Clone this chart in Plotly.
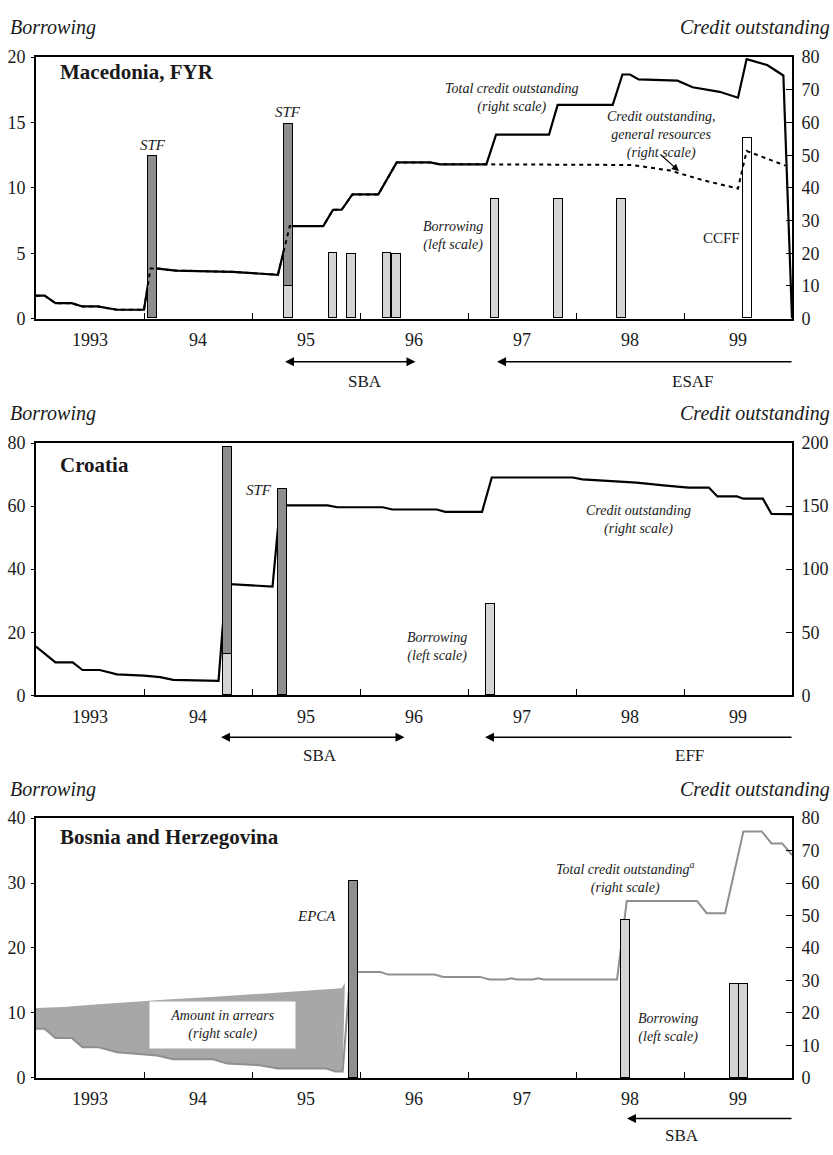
import plotly.graph_objects as go

W, H = 833, 1155
FONT = "Liberation Serif"

# ---------------- data ----------------
year_ticks = [1993.5, 1994.5, 1995.5, 1996.5, 1997.5, 1998.5, 1999.5]
year_labels = ["1993", "94", "95", "96", "97", "98", "99"]
year_bounds = [1994, 1995, 1996, 1997, 1998, 1999]

# Macedonia, FYR (credit: right scale; borrowing: left scale)
mk_total_x = [1993.00, 1993.08, 1993.18, 1993.33, 1993.43, 1993.57, 1993.75, 1994.00, 1994.06,
              1994.13, 1994.29, 1994.82, 1995.24, 1995.35, 1995.66, 1995.75, 1995.83, 1995.93,
              1996.17, 1996.34, 1996.65, 1996.74, 1997.17, 1997.26, 1997.75, 1997.83, 1998.34,
              1998.43, 1998.50, 1998.58, 1998.94, 1999.08, 1999.33, 1999.50, 1999.58, 1999.77,
              1999.92, 2000.00]
mk_total_y = [7.0, 7.0, 4.7, 4.7, 3.7, 3.7, 2.7, 2.7, 15.3,
              15.3, 14.7, 14.3, 13.4, 28.3, 28.3, 33.3, 33.3, 38.0,
              38.0, 47.8, 47.8, 47.2, 47.2, 56.3, 56.3, 65.4, 65.4,
              74.7, 74.7, 73.2, 72.8, 70.8, 69.4, 67.6, 79.4, 77.6,
              74.4, 0.0]
mk_genres_x = [1993.00, 1993.08, 1993.18, 1993.33, 1993.43, 1993.57, 1993.75, 1994.00, 1994.06,
               1994.13, 1994.29, 1994.82, 1995.24, 1995.35, 1995.66, 1995.75, 1995.83, 1995.93,
               1996.17, 1996.34, 1996.65, 1996.74, 1997.17, 1998.52, 1998.87, 1999.18, 1999.50,
               1999.58, 1999.94]
mk_genres_y = [7.0, 7.0, 4.7, 4.7, 3.7, 3.7, 2.7, 2.7, 15.3,
               15.3, 14.7, 14.3, 13.4, 28.3, 28.3, 33.3, 33.3, 38.0,
               38.0, 47.8, 47.8, 47.2, 47.2, 47.0, 45.3, 42.3, 39.8,
               51.3, 46.8]
mk_borrow_x = [1995.34, 1995.75, 1995.92, 1996.25, 1996.34, 1997.25, 1997.84, 1998.42]
mk_borrow_y = [2.5, 5.0, 4.9, 5.0, 4.9, 9.1, 9.1, 9.1]
mk_stf_x = [1994.08, 1995.34]
mk_stf_y = [12.4, 12.4]
mk_ccff_x = [1999.59]
mk_ccff_y = [13.8]

# Croatia
hr_credit_x = [1993.00, 1993.18, 1993.34, 1993.43, 1993.59, 1993.75, 1994.00, 1994.15, 1994.27,
               1994.69, 1994.76, 1994.81, 1995.19, 1995.26, 1995.70, 1995.79, 1996.21, 1996.30,
               1996.71, 1996.79, 1997.13, 1997.22, 1997.97, 1998.06, 1998.31, 1998.56, 1998.81,
               1999.04, 1999.23, 1999.31, 1999.49, 1999.55, 1999.73, 1999.81, 2000.00]
hr_credit_y = [38.6, 26.0, 26.0, 20.0, 20.0, 16.6, 15.5, 14.3, 12.2,
               11.4, 88.3, 88.0, 86.2, 150.6, 150.6, 149.1, 149.1, 147.3,
               147.3, 145.4, 145.4, 172.7, 172.7, 171.2, 169.9, 168.6, 166.5,
               164.7, 164.7, 157.7, 157.7, 155.9, 155.9, 143.9, 143.6]
hr_borrow_x = [1994.77, 1997.21]
hr_borrow_y = [13.1, 28.8]
hr_stf_x = [1994.77, 1995.28]
hr_stf_y = [65.5, 65.5]

# Bosnia and Herzegovina
ba_credit_x = [1993.00, 1993.08, 1993.18, 1993.33, 1993.43, 1993.58, 1993.75, 1994.12, 1994.27,
               1994.64, 1994.77, 1995.07, 1995.24, 1995.69, 1995.77, 1995.84, 1995.91, 1996.19,
               1996.26, 1996.69, 1996.77, 1997.11, 1997.20, 1997.35, 1997.40, 1997.45, 1997.60,
               1997.65, 1997.70, 1998.38, 1998.47, 1999.12, 1999.21,
               1999.38, 1999.45, 1999.55, 1999.72, 1999.81, 1999.91, 2000.00]
ba_credit_y = [15.1, 15.1, 12.3, 12.3, 9.4, 9.4, 7.9, 6.9, 5.7,
               5.7, 4.4, 3.9, 2.9, 2.9, 2.0, 2.0, 32.6, 32.6,
               31.8, 31.8, 31.1, 31.1, 30.3, 30.3, 30.7, 30.3, 30.3,
               30.7, 30.3, 30.3, 54.5, 54.5, 50.7,
               50.7, 61.0, 75.9, 75.9, 72.2, 72.2, 68.6]
ba_arrears_top_x = [1993.00, 1993.25, 1993.58, 1993.92, 1994.25, 1994.58, 1994.92, 1995.25,
                    1995.58, 1995.83, 1995.86]
ba_arrears_top_y = [21.5, 21.8, 22.7, 23.5, 24.2, 24.8, 25.6, 26.3, 27.0, 27.6, 29.3]
ba_arrears_end = 1995.84
ba_borrow_x = [1998.46, 1999.47, 1999.55]
ba_borrow_y = [24.3, 14.5, 14.5]
ba_epca_x = [1995.94]
ba_epca_y = [30.3]

# ---------------- style ----------------
DARK = "#8e8e91"
LIGHT = "#d4d4d4"
AREA = "#a7a7aa"
GREYLINE = "#8f8f8f"
BAR_W = 0.083
OUT = dict(color="black", width=1.5)


def px_x(x):
    return x / W


def px_y(y):
    return 1 - y / H


XDOM = [px_x(36), px_x(792)]

fig = go.Figure()

# ---- Panel 1: Macedonia ----
fig.add_trace(go.Scatter(x=mk_total_x, y=mk_total_y, mode="lines", xaxis="x", yaxis="y",
                         line=dict(color="black", width=2.2), showlegend=False))
fig.add_trace(go.Bar(x=mk_borrow_x, y=mk_borrow_y, width=BAR_W, xaxis="x", yaxis="y2",
                     marker=dict(color=LIGHT, line=OUT), showlegend=False))
fig.add_trace(go.Bar(x=mk_stf_x, y=mk_stf_y, width=BAR_W, xaxis="x", yaxis="y2",
                     marker=dict(color=DARK, line=OUT), showlegend=False))
fig.add_trace(go.Bar(x=mk_ccff_x, y=mk_ccff_y, width=BAR_W, xaxis="x", yaxis="y2",
                     marker=dict(color="white", line=OUT), showlegend=False))
fig.add_trace(go.Scatter(x=mk_genres_x, y=mk_genres_y, mode="lines", xaxis="x", yaxis="y3",
                         line=dict(color="black", width=2, dash="4px,4px"), showlegend=False))

# ---- Panel 2: Croatia ----
fig.add_trace(go.Scatter(x=hr_credit_x, y=hr_credit_y, mode="lines", xaxis="x2", yaxis="y4",
                         line=dict(color="black", width=2.2), showlegend=False))
fig.add_trace(go.Bar(x=hr_borrow_x, y=hr_borrow_y, width=BAR_W, xaxis="x2", yaxis="y5",
                     marker=dict(color=LIGHT, line=OUT), showlegend=False))
fig.add_trace(go.Bar(x=hr_stf_x, y=hr_stf_y, width=BAR_W, xaxis="x2", yaxis="y5",
                     marker=dict(color=DARK, line=OUT), showlegend=False))

# ---- Panel 3: Bosnia ----
low_x = [x for x in ba_credit_x if x <= ba_arrears_end]
low_y = [y for x, y in zip(ba_credit_x, ba_credit_y) if x <= ba_arrears_end]
fig.add_trace(go.Scatter(x=ba_arrears_top_x + low_x[::-1], y=ba_arrears_top_y + low_y[::-1],
                         mode="lines", fill="toself", fillcolor=AREA, line=dict(width=0),
                         xaxis="x3", yaxis="y6", showlegend=False))
fig.add_trace(go.Scatter(x=ba_credit_x, y=ba_credit_y, mode="lines", xaxis="x3", yaxis="y6",
                         line=dict(color=GREYLINE, width=2), showlegend=False))
fig.add_trace(go.Bar(x=ba_borrow_x, y=ba_borrow_y, width=BAR_W, xaxis="x3", yaxis="y7",
                     marker=dict(color=LIGHT, line=OUT), showlegend=False))
fig.add_trace(go.Bar(x=ba_epca_x, y=ba_epca_y, width=BAR_W, xaxis="x3", yaxis="y7",
                     marker=dict(color=DARK, line=OUT), showlegend=False))

TICKF = dict(family=FONT, size=18, color="#1a1a1a")


def xaxis(anchor):
    return dict(domain=XDOM, range=[1993, 2000], anchor=anchor, tickmode="array",
                tickvals=year_ticks, ticktext=year_labels, ticks="", tickfont=TICKF,
                ticklabelstandoff=4,
                showline=True, mirror=True, linecolor="black", linewidth=1.8,
                showgrid=False, zeroline=False,
                minor=dict(tickmode="array", tickvals=year_bounds, ticks="inside",
                           ticklen=6, tickwidth=1.2, tickcolor="black", showgrid=False))


def right_axis(dom, rng, dt, anchor):
    return dict(domain=dom, range=rng, dtick=dt, tick0=0, anchor=anchor, side="right",
                showline=True, mirror=True, linecolor="black", linewidth=1.6,
                ticks="inside", ticklen=6, tickwidth=1.2, tickcolor="black",
                tickfont=TICKF, ticklabelstandoff=4, showgrid=False, zeroline=False)


def left_axis(over, rng, dt, anchor):
    return dict(overlaying=over, range=rng, dtick=dt, tick0=0, anchor=anchor, side="left",
                showline=False, ticks="outside", ticklen=4, tickwidth=1.2, tickcolor="black",
                tickfont=TICKF, ticklabelstandoff=2, showgrid=False, zeroline=False)


d1 = [px_y(314), px_y(48)]
d2 = [px_y(697.3), px_y(440.7)]
d3 = [px_y(1086.7), px_y(822.3)]

layout = dict(
    width=W, height=H, margin=dict(l=0, r=0, t=0, b=0),
    paper_bgcolor="white", plot_bgcolor="white", barmode="stack", bargap=0,
    font=dict(family=FONT, color="#1a1a1a"), showlegend=False,
    xaxis=xaxis("y"), xaxis2=xaxis("y4"), xaxis3=xaxis("y6"),
    yaxis=right_axis(d1, [0, 80], 10, "x"),
    yaxis2=left_axis("y", [0, 20], 5, "x"),
    yaxis3=dict(overlaying="y", range=[0, 80], visible=False, anchor="x"),
    yaxis4=right_axis(d2, [0, 200], 50, "x2"),
    yaxis5=left_axis("y4", [0, 80], 20, "x2"),
    yaxis6=right_axis(d3, [0, 80], 10, "x3"),
    yaxis7=left_axis("y6", [0, 40], 10, "x3"),
)
fig.update_layout(**layout)

anns = []


def txt(text, x, y, size=14, xanchor="center", **kw):
    d = dict(text=text, x=px_x(x), y=px_y(y), xref="paper", yref="paper", showarrow=False,
             xanchor=xanchor, yanchor="middle", font=dict(family=FONT, size=size, color="#1a1a1a"))
    d.update(kw)
    anns.append(d)


def arrow(head_x, tail_x, y, both=False):
    anns.append(dict(text="", x=px_x(head_x), y=px_y(y), xref="paper", yref="paper",
                     showarrow=True, axref="pixel", ayref="pixel", ax=tail_x - head_x, ay=0,
                     arrowhead=2, arrowsize=1.2, arrowwidth=1.5, arrowcolor="black",
                     arrowside="end+start" if both else "end", standoff=0, startstandoff=0))


# headers
for yy in (18, 411, 793):
    txt("<i>Borrowing</i>", 8, yy, size=20, xanchor="left")
    txt("<i>Credit outstanding</i>", 832, yy, size=20, xanchor="right")

# titles
txt("<b>Macedonia, FYR</b>", 58, 63, size=21, xanchor="left")
txt("<b>Croatia</b>", 58, 463, size=21, xanchor="left")
txt("<b>Bosnia and Herzegovina</b>", 58, 842, size=21, xanchor="left")

# panel 1 labels
txt("<i>STF</i>", 153, 137, size=15)
txt("<i>STF</i>", 288, 104, size=15)
txt("<i>Total credit outstanding<br>(right scale)</i>", 512, 90, size=14)
txt("<i>Credit outstanding,<br>general resources<br>(right scale)</i>", 661, 127, size=14)
txt("<i>Borrowing<br>(left scale)</i>", 453, 230, size=14)
txt("CCFF", 721, 232, size=15)
anns.append(dict(text="", x=px_x(679), y=px_y(164), xref="paper", yref="paper", showarrow=True,
                 axref="pixel", ayref="pixel", ax=-20, ay=-18, arrowhead=2, arrowsize=1.2,
                 arrowwidth=1.2, arrowcolor="black", standoff=0))

# panel 2 labels
txt("<i>STF</i>", 259, 488, size=15)
txt("<i>Credit outstanding<br>(right scale)</i>", 638, 519, size=14)
txt("<i>Borrowing<br>(left scale)</i>", 437, 648, size=14)

# panel 3 labels
txt("<i>EPCA</i>", 316, 922, size=15)
txt("<i>Amount in arrears<br>(right scale)</i>", 222, 1033, size=14, bgcolor="white",
    width=135, height=36, borderpad=5)
txt("<i>Total credit outstanding<sup>a</sup><br>(right scale)</i>", 625, 883, size=14)
txt("<i>Borrowing<br>(left scale)</i>", 668, 1036, size=14)

# programme arrows
arrow(285, 417, 358, both=True)
txt("SBA", 365, 378, size=17)
arrow(497, 793, 358)
txt("ESAF", 693, 378, size=17)

arrow(221, 406, 740, both=True)
txt("SBA", 320, 759, size=17)
arrow(485, 793, 740)
txt("EFF", 689, 759, size=17)

arrow(627, 793, 1128)
txt("SBA", 682, 1145, size=17)

fig.update_layout(annotations=anns)
fig.write_html("out.html")
